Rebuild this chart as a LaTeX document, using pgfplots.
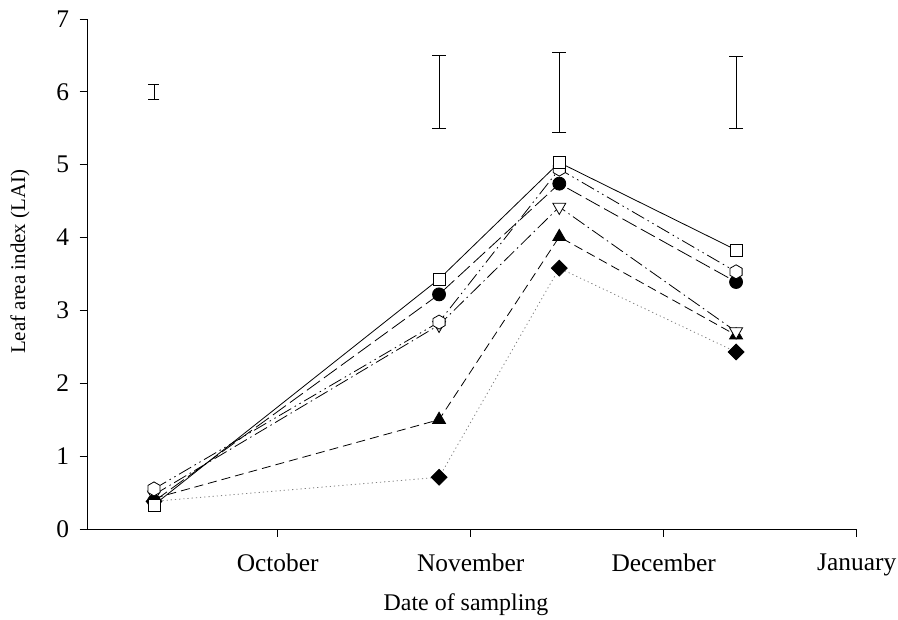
\documentclass[border=0pt]{standalone}
\usepackage{fontspec}
\setmainfont{Liberation Serif}
\usepackage{pgfplots}
\usepackage{pgfplotstable}
\pgfplotsset{compat=1.18}

\pgfdeclareplotmark{hexagon}{%
  \pgfpathmoveto{\pgfpointpolar{90}{\pgfplotmarksize}}%
  \pgfpathlineto{\pgfpointpolar{150}{\pgfplotmarksize}}%
  \pgfpathlineto{\pgfpointpolar{210}{\pgfplotmarksize}}%
  \pgfpathlineto{\pgfpointpolar{270}{\pgfplotmarksize}}%
  \pgfpathlineto{\pgfpointpolar{330}{\pgfplotmarksize}}%
  \pgfpathlineto{\pgfpointpolar{30}{\pgfplotmarksize}}%
  \pgfpathclose
  \pgfusepathqfillstroke}

\pgfplotstableread{
x y
0.359 0.33
1.836 3.43
2.459 5.03
3.375 3.83
}\tsquare
\pgfplotstableread{
x y
0.359 0.38
1.836 3.22
2.459 4.74
3.375 3.39
}\tcircle
\pgfplotstableread{
x y
0.359 0.55
1.836 2.84
2.459 4.94
3.375 3.53
}\thex
\pgfplotstableread{
x y
0.359 0.47
1.836 2.80
2.459 4.42
3.375 2.71
}\ttridown
\pgfplotstableread{
x y
0.359 0.42
1.836 1.50
2.459 4.01
3.375 2.66
}\ttriup
\pgfplotstableread{
x y
0.359 0.38
1.836 0.71
2.459 3.58
3.375 2.43
}\tdiamond
\pgfplotstableread{
x y e
0.359 6.0 0.10
}\terrA
\pgfplotstableread{
x y e
1.836 6.0 0.50
2.459 5.99 0.55
3.375 5.99 0.49
}\terrB

\begin{document}
\begin{tikzpicture}
\begin{axis}[
  scale only axis, width=769bp, height=510bp,
  xmin=0.0155, xmax=4, ymin=0, ymax=7,
  axis x line*=bottom, axis y line*=left,
  axis line style={line width=0.9bp, black},
  xtick={1,2,3,4}, xticklabels={October,November,December,January},
  ytick={0,1,2,3,4,5,6,7},
  tick align=outside, major tick length=8bp,
  tick style={black, line width=0.9bp},
  /pgf/number format/assume math mode=true,
  ticklabel style={font=\fontsize{25.5}{29}\selectfont},
  xticklabel style={yshift=-13bp},
  yticklabel style={xshift=-7bp},
  xlabel={Date of sampling},
  ylabel={Leaf area index (LAI)},
  xlabel style={font=\fontsize{24}{28}\selectfont, at={(axis description cs:0.492,-0.149)}, anchor=center},
  ylabel style={font=\fontsize{21}{25}\selectfont, at={(axis description cs:-0.088,0.524)}, anchor=center},
  clip=false,
]
\coordinate (ll) at (rel axis cs:0,0);
\coordinate (ur) at (rel axis cs:1,1);
\addplot[black, draw=none, mark=none,
  error bars/.cd, y dir=both, y explicit,
  error bar style={line width=0.9bp, black},
  error mark options={rotate=90, mark size=5.5bp, line width=0.9bp, black}]
  table[x=x, y=y, y error=e] {\terrA};
\addplot[black, draw=none, mark=none,
  error bars/.cd, y dir=both, y explicit,
  error bar style={line width=0.9bp, black},
  error mark options={rotate=90, mark size=7bp, line width=0.9bp, black}]
  table[x=x, y=y, y error=e] {\terrB};

\addplot[gray, line width=0.8bp, dash pattern=on 1.2bp off 3bp,
  mark=square*, mark size=5.6bp, mark options={solid, fill=black, draw=black, rotate=45}]
  table[x=x,y=y] {\tdiamond};
\addplot[black, line width=0.8bp, dash pattern=on 9bp off 5bp,
  mark=triangle*, mark size=7.5bp, mark options={solid, fill=black}]
  table[x=x,y=y] {\ttriup};
\addplot[black, line width=0.8bp, dash pattern=on 14bp off 4bp on 1.5bp off 4bp,
  mark=triangle*, mark size=7.5bp, mark options={solid, fill=white, rotate=180}]
  table[x=x,y=y] {\ttridown};
\addplot[black, line width=0.8bp, dash pattern=on 16bp off 5bp,
  mark=*, mark size=6.5bp, mark options={solid, fill=black}]
  table[x=x,y=y] {\tcircle};
\addplot[black, line width=0.8bp, dash pattern=on 14bp off 4bp on 1.5bp off 4bp on 1.5bp off 4bp,
  mark=hexagon, mark size=7bp, mark options={solid, fill=white}]
  table[x=x,y=y] {\thex};
\addplot[black, line width=0.8bp, solid,
  mark=square*, mark size=6bp, mark options={solid, fill=white}]
  table[x=x,y=y] {\tsquare};
\end{axis}
\pgfresetboundingbox
\path (ll) ++(-87.7bp,-91bp) coordinate (a) (ur) ++(41.3bp,19bp) coordinate (b);
\path[use as bounding box] (a) rectangle (b);
\end{tikzpicture}
\end{document}
